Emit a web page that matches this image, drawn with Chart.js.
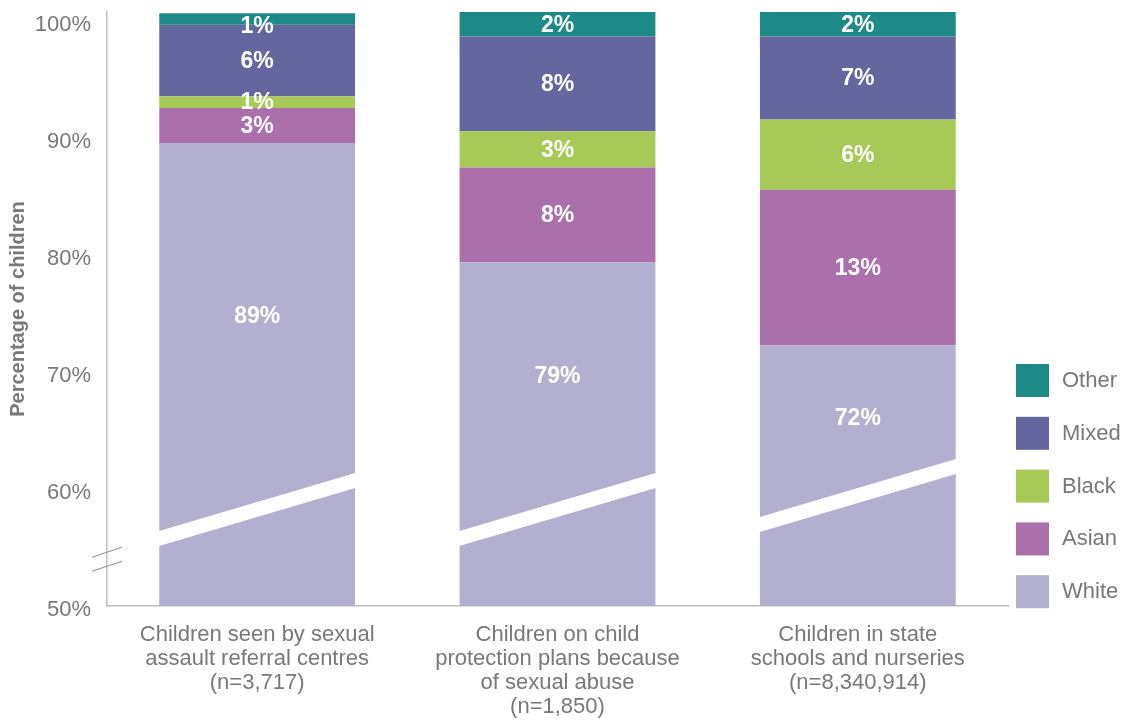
<!DOCTYPE html>
<html>
<head>
<meta charset="utf-8">
<script src="https://cdn.jsdelivr.net/npm/chart.js@4"></script>
<style>
  html, body { margin: 0; padding: 0; background: #fff; }
  #wrap { width: 1126px; height: 720px; position: relative; }
</style>
</head>
<body>
<div id="wrap"><canvas id="chart"></canvas></div>
<script>
// categories (multi-line tick labels)
const categories = [
  ['Children seen by sexual', 'assault referral centres', '(n=3,717)'],
  ['Children on child', 'protection plans because', 'of sexual abuse', '(n=1,850)'],
  ['Children in state', 'schools and nurseries', '(n=8,340,914)'],
];

// segment sizes (stacked from the bottom)
const white = [89.6, 79.4, 72.3];
const asian = [3.0, 8.1, 13.3];
const black = [1.0, 3.1, 6.0];
const mixed = [6.1, 8.1, 7.1];
const other = [1.0, 2.1, 2.1];

// printed labels
const whiteLbl = ['89%', '79%', '72%'];
const asianLbl = ['3%', '8%', '13%'];
const blackLbl = ['1%', '3%', '6%'];
const mixedLbl = ['6%', '8%', '7%'];
const otherLbl = ['1%', '2%', '2%'];

const yTicks = [50, 60, 70, 80, 90, 100];

// axis-break band through each bar (value at left edge, value at right edge)
const breakLeft = [56.4, 56.4, 57.6];
const breakRight = [61.4, 61.4, 62.6];

const GREY = '#77787b';
const FONT = '"Liberation Sans", Arial, sans-serif';

const datasets = [
  { label: 'White', data: white, labels: whiteLbl, backgroundColor: '#b3afd0' },
  { label: 'Asian', data: asian, labels: asianLbl, backgroundColor: '#ab70ab' },
  { label: 'Black', data: black, labels: blackLbl, backgroundColor: '#a7c957' },
  { label: 'Mixed', data: mixed, labels: mixedLbl, backgroundColor: '#64669f' },
  { label: 'Other', data: other, labels: otherLbl, backgroundColor: '#1e8a87' },
];

const breakPlugin = {
  id: 'breaks',
  afterDatasetsDraw(chart) {
    const { ctx, scales: { y }, chartArea } = chart;
    const meta = chart.getDatasetMeta(0);
    ctx.save();
    ctx.fillStyle = '#fff';
    meta.data.forEach((bar, i) => {
      const l = bar.x - bar.width / 2, r = bar.x + bar.width / 2;
      const yl = y.getPixelForValue(breakLeft[i]);
      const yr = y.getPixelForValue(breakRight[i]);
      ctx.beginPath();
      ctx.moveTo(l - 1, yl); ctx.lineTo(r + 1, yr);
      ctx.lineTo(r + 1, yr + 15); ctx.lineTo(l - 1, yl + 15);
      ctx.closePath();
      ctx.fill();
    });
    // break marks on the y axis
    ctx.strokeStyle = '#8a8a8a';
    ctx.lineWidth = 1;
    [54.6, 53.4].forEach(v => {
      const py = y.getPixelForValue(v);
      ctx.beginPath();
      ctx.moveTo(chartArea.left - 15, py + 5);
      ctx.lineTo(chartArea.left + 15, py - 5);
      ctx.stroke();
    });

    // value labels
    ctx.fillStyle = '#fff';
    ctx.font = 'bold 23px ' + FONT;
    ctx.textAlign = 'center';
    ctx.textBaseline = 'middle';
    const last = chart.data.datasets.length - 1;
    chart.data.datasets.forEach((ds, di) => {
      chart.getDatasetMeta(di).data.forEach((bar, i) => {
        let cy = (bar.y + bar.base) / 2;
        if (di === 0) cy = (bar.y + y.getPixelForValue(60)) / 2;
        if (di === last) cy = Math.max(cy, bar.y + 12); // keep the top label inside the canvas
        ctx.fillText(ds.labels[i], bar.x, cy + 1);
      });
    });

    // legend, top to bottom in reverse stacking order
    ctx.font = '22px ' + FONT;
    ctx.textAlign = 'left';
    const n = chart.data.datasets.length;
    for (let k = 0; k < n; k++) {
      const ds = chart.data.datasets[n - 1 - k];
      const top = 364 + k * 52.8;
      ctx.fillStyle = ds.backgroundColor;
      ctx.fillRect(1016, top, 33, 33);
      ctx.fillStyle = GREY;
      ctx.fillText(ds.label, 1062, top + 17);
    }
    ctx.restore();
  }
};

new Chart(document.getElementById('chart'), {
  type: 'bar',
  data: { labels: categories, datasets },
  plugins: [breakPlugin],
  options: {
    responsive: true, maintainAspectRatio: false, animation: false,
    layout: { padding: { top: 12, right: 118, left: 0, bottom: 0 } },
    datasets: { bar: { barPercentage: 0.652, categoryPercentage: 1 } },
    plugins: { legend: { display: false }, tooltip: { enabled: false } },
    scales: {
      x: {
        stacked: true,
        grid: { display: false, drawTicks: false },
        border: { color: '#bdbdbd', width: 1.5 },
        ticks: { color: GREY, font: { family: FONT, size: 22, lineHeight: '24px' }, padding: 17, maxRotation: 0, autoSkip: false },
        afterFit: s => { s.height = 114; s.paddingLeft = 0; s.paddingRight = 0; },
      },
      y: {
        stacked: true,
        min: 50, max: 100.8,
        grid: { display: false, drawTicks: false },
        border: { color: '#bdbdbd', width: 1.5 },
        afterBuildTicks: s => { s.ticks = yTicks.map(v => ({ value: v })); },
        ticks: { color: GREY, font: { family: FONT, size: 22 }, padding: 16, labelOffset: 4, callback: v => v + '%' },
        title: { display: true, text: 'Percentage of children', color: GREY, font: { family: FONT, size: 20, weight: 'bold' }, padding: { top: 6, bottom: 0 } },
        afterFit: s => { s.width = 107; s.paddingTop = 0; s.paddingBottom = 0; },
      },
    },
  },
});
</script>
</body>
</html>
